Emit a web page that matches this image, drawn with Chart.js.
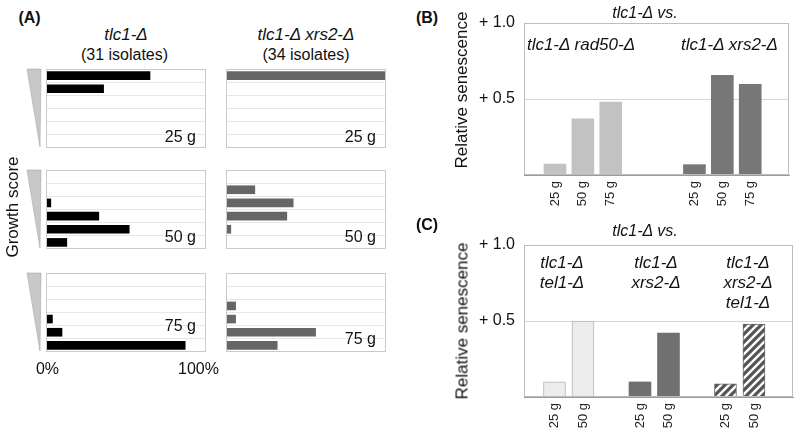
<!DOCTYPE html>
<html>
<head>
<meta charset="utf-8">
<script src="https://cdn.jsdelivr.net/npm/chart.js@4.4.1/dist/chart.umd.min.js"></script>
<style>
  body { margin: 0; background: #fff; }
  #fig { position: relative; width: 800px; height: 439px; overflow: hidden; font-family: "Liberation Sans", Arial, sans-serif; color: #111; }
  #fig canvas { position: absolute; }
  .txt { position: absolute; white-space: nowrap; line-height: 1; }
  svg { position: absolute; left: 0; top: 0; }
</style>
</head>
<body>
<div id="fig">
  <svg width="800" height="439">
    <polygon points="27,69 41,69 40,147" fill="#c8c8c8" stroke="#aaa" stroke-width="0.6"/>
    <polygon points="27,170 41,170 40,248" fill="#c8c8c8" stroke="#aaa" stroke-width="0.6"/>
    <polygon points="27,273 41,273 40,351" fill="#c8c8c8" stroke="#aaa" stroke-width="0.6"/>
  </svg>
</div>
<script>
// ---- data ----
// (A) % of isolates per growth-score row (top row = best growth)
const growthRows = ['6', '5', '4', '3', '2', '1'];
const tlc1At25 = [65, 36, 0, 0, 0, 0];
const tlc1At50 = [0, 0, 3, 33, 52, 13];
const tlc1At75 = [0, 0, 0, 4, 10, 87];
const xrs2At25 = [100, 0, 0, 0, 0, 0];
const xrs2At50 = [0, 18, 42, 38, 3, 0];
const xrs2At75 = [0, 0, 6, 6, 56, 32];

// (B) relative senescence vs tlc1-Δ
const genB = ['25 g', '50 g', '75 g'];
const rad50Sen = [0.072, 0.37, 0.48];
const xrs2Sen = [0.068, 0.656, 0.597];
const bGroups = ['tlc1-Δ rad50-Δ', 'tlc1-Δ xrs2-Δ'];

// (C)
const genC = ['25 g', '50 g'];
const tel1SenC = [0.099, 0.50];
const xrs2SenC = [0.099, 0.42];
const xrs2tel1SenC = [0.086, 0.48];
const cGroups = [['tlc1-Δ', 'tel1-Δ'], ['tlc1-Δ', 'xrs2-Δ'], ['tlc1-Δ', 'xrs2-Δ', 'tel1-Δ']];

const senTicks = [0.5, 1.0];

// ---- helpers ----
const fig = document.getElementById('fig');
const FONT = '"Liberation Sans", Arial, sans-serif';

function addText(html, x, y, o = {}) {
  const d = document.createElement('div');
  d.className = 'txt';
  d.innerHTML = html;
  d.style.left = x + 'px';
  d.style.top = y + 'px';
  d.style.fontSize = (o.size || 16) + 'px';
  if (o.italic) d.style.fontStyle = 'italic';
  if (o.bold) d.style.fontWeight = 'bold';
  const tx = o.align === 'right' ? '-100%' : '-50%';
  d.style.transform = 'translate(' + tx + ', -50%)' + (o.rotate ? ' rotate(-90deg)' : '');
  fig.appendChild(d);
}

function addCanvas(left, top, w, h) {
  const c = document.createElement('canvas');
  c.width = w; c.height = h;
  c.style.left = left + 'px'; c.style.top = top + 'px';
  fig.appendChild(c);
  return c;
}

const boxPlugin = {
  id: 'box',
  afterDatasetsDraw(chart, args, opts) {
    const { ctx, chartArea: a } = chart;
    ctx.save();
    ctx.strokeStyle = opts.color || '#bbb';
    ctx.lineWidth = 1;
    ctx.strokeRect(Math.round(a.left) + 0.5, Math.round(a.top) + 0.5,
      Math.round(a.right - a.left) - 1, Math.round(a.bottom - a.top) - 1);
    ctx.restore();
  }
};

function hatch() {
  const c = document.createElement('canvas');
  c.width = 8; c.height = 8;
  const g = c.getContext('2d');
  g.fillStyle = '#555';
  g.fillRect(0, 0, 8, 8);
  g.strokeStyle = '#fff';
  g.lineWidth = 2.4;
  g.beginPath();
  g.moveTo(-1, 9); g.lineTo(9, -1);
  g.moveTo(-3, 3); g.lineTo(3, -3);
  g.moveTo(5, 11); g.lineTo(11, 5);
  g.stroke();
  return g.createPattern(c, 'repeat');
}

Chart.defaults.font.family = FONT;
Chart.defaults.color = '#111';
Chart.defaults.animation = false;
Chart.defaults.responsive = false;
Chart.defaults.plugins.legend.display = false;
Chart.defaults.plugins.tooltip.enabled = false;

// ---- panel A ----
const miniCharts = [
  { data: tlc1At25, color: '#000', left: 46, top: 69, gen: '25 g', ly: 137 },
  { data: tlc1At50, color: '#000', left: 46, top: 170, gen: '50 g', ly: 237 },
  { data: tlc1At75, color: '#000', left: 46, top: 273, gen: '75 g', ly: 326 },
  { data: xrs2At25, color: '#666', left: 226, top: 69, gen: '25 g', ly: 137 },
  { data: xrs2At50, color: '#666', left: 226, top: 170, gen: '50 g', ly: 237 },
  { data: xrs2At75, color: '#666', left: 226, top: 273, gen: '75 g', ly: 339 }
];

miniCharts.forEach(m => {
  const cv = addCanvas(m.left, m.top, 160, 79);
  new Chart(cv, {
    type: 'bar',
    data: {
      labels: growthRows,
      datasets: [{ data: m.data, backgroundColor: m.color, barThickness: 8 }]
    },
    options: {
      indexAxis: 'y',
      layout: { padding: 0 },
      scales: {
        x: { min: 0, max: 100, display: false },
        y: {
          grid: { offset: true, color: '#e6e6e6', drawTicks: false },
          ticks: { display: false },
          border: { display: false }
        }
      },
      plugins: { box: { color: '#cacaca' } }
    },
    plugins: [boxPlugin]
  });
  addText(m.gen, m.left + 150 + (m.left > 100 && m.left < 200 ? -1 : 0), m.ly, { align: 'right', size: 16 });
});

addText('(A)', 29.5, 18, { bold: true, size: 16 });
addText('tlc1-Δ', 126, 34, { italic: true, size: 17 });
addText('(31 isolates)', 124.5, 55, { size: 16 });
addText('tlc1-Δ xrs2-Δ', 306, 34, { italic: true, size: 17 });
addText('(34 isolates)', 306, 55, { size: 16 });
addText('Growth score', 12, 207, { rotate: true, size: 17 });
addText('0%', 47.5, 369, { size: 16 });
addText('100%', 198.5, 369, { size: 16 });

// ---- panels B and C ----
function senChart(cv, groups, ticksX, labelsX, xMin, xMax, padTop, padRight, xAxisH) {
  return new Chart(cv, {
    type: 'bar',
    data: { datasets: groups },
    options: {
      layout: { padding: { top: padTop, right: padRight, left: 0, bottom: 0 } },
      datasets: { bar: { grouped: false, barThickness: 22 } },
      scales: {
        x: {
          type: 'linear', min: xMin, max: xMax, offset: false,
          grid: { display: false, drawTicks: false },
          border: { display: true, color: '#9a9a9a' },
          afterBuildTicks: s => { s.ticks = ticksX.map(v => ({ value: v })); },
          afterFit: s => { s.height = xAxisH; },
          ticks: {
            autoSkip: false, minRotation: 90, maxRotation: 90, padding: 6,
            font: { size: 13 }, color: '#222',
            callback: (v, i) => labelsX[i]
          }
        },
        y: {
          min: 0, max: 1,
          grid: { drawTicks: false, color: c => (c.tick && c.tick.value === 0.5 ? '#d6d6d6' : 'rgba(0,0,0,0)') },
          border: { display: false },
          afterBuildTicks: s => { s.ticks = senTicks.map(v => ({ value: v })); },
          afterFit: s => { s.width = 54; },
          ticks: { padding: 9, font: { size: 16 }, color: '#111', callback: v => '+ ' + v.toFixed(1) }
        }
      },
      plugins: { box: { color: '#bdbdbd' } }
    },
    plugins: [boxPlugin]
  });
}

// B: groups start at slot 0 and slot 5
const bStarts = [0, 5];
const cvB = addCanvas(470, 0, 330, 215);
senChart(cvB, [
  { data: rad50Sen.map((v, i) => ({ x: bStarts[0] + i, y: v })), backgroundColor: '#c2c2c2' },
  { data: xrs2Sen.map((v, i) => ({ x: bStarts[1] + i, y: v })), backgroundColor: '#777' }
],
  [...genB.map((g, i) => bStarts[0] + i), ...genB.map((g, i) => bStarts[1] + i)],
  [...genB, ...genB],
  -1.11, 8.39, 23, 11, 40);

addText('(B)', 427, 17.5, { bold: true, size: 16 });
addText('tlc1-Δ vs.', 645, 13, { italic: true, size: 16 });
addText('Relative senescence', 461, 90, { rotate: true, size: 17 });
addText(bGroups[0], 581, 44, { italic: true, size: 17 });
addText(bGroups[1], 729.5, 44, { italic: true, size: 17 });

// C: groups start at slot 0, 3, 6
const cStarts = [0, 3, 6];
const cvC = addCanvas(470, 220, 330, 219);
senChart(cvC, [
  { data: tel1SenC.map((v, i) => ({ x: cStarts[0] + i, y: v })), backgroundColor: '#ececec', borderColor: '#b5b5b5', borderWidth: 1 },
  { data: xrs2SenC.map((v, i) => ({ x: cStarts[1] + i, y: v })), backgroundColor: '#707070' },
  { data: xrs2tel1SenC.map((v, i) => ({ x: cStarts[2] + i, y: v })), backgroundColor: hatch(), borderColor: '#666', borderWidth: 1 }
],
  cStarts.flatMap(s => genC.map((g, i) => s + i)),
  cStarts.flatMap(() => genC),
  -1.07, 8.37, 25, 7, 42);

addText('(C)', 427, 225, { bold: true, size: 16 });
addText('tlc1-Δ vs.', 645, 231, { italic: true, size: 16 });
addText('Relative senescence', 461.5, 321, { rotate: true, size: 17 });
const cLabelX = [562, 656, 748];
cGroups.forEach((lines, gi) => {
  lines.forEach((t, li) => addText(t, cLabelX[gi], 262 + li * 20, { italic: true, size: 17 }));
});
</script>
</body>
</html>
